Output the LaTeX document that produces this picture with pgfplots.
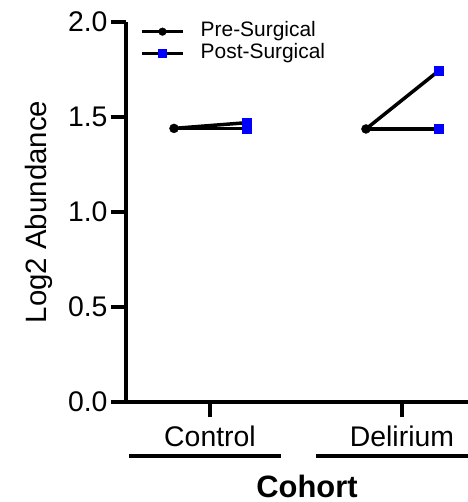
\documentclass[border=0pt]{standalone}
\usepackage{fontspec}
\setmainfont{Liberation Sans}
\usepackage{pgfplots}
\pgfplotsset{compat=1.18}
\begin{document}
\begin{tikzpicture}
\begin{axis}[
  at={(126bp,100bp)}, anchor=south west,
  scale only axis, width=342bp, height=380bp,
  xmin=0.5625, xmax=2.344, ymin=0, ymax=2,
  axis x line*=bottom, axis y line*=left,
  axis line style={line width=3.5bp, black},
  tick style={line width=3.5bp, black},
  major tick length=15bp, tick align=outside,
  xtick={1,2}, xticklabels={Control,Delirium},
  ytick={0,0.5,1,1.5,2},
  y tick label style={/pgf/number format/.cd, fixed, fixed zerofill, precision=1, /tikz/.cd},
  x tick label style={yshift=-5bp},
  /pgf/number format/assume math mode=true,
  tick label style={font=\fontsize{28.5}{33}\selectfont},
  ylabel={Log2 Abundance},
  ylabel style={font=\fontsize{29.5}{34}\selectfont, at={(axis description cs:-0.254,0.5)}, anchor=center},
  clip=false,
  legend image code/.code={\draw[mark repeat=2,mark phase=2,#1,line width=3.5bp] plot coordinates {(0bp,0bp) (20.5bp,0bp) (41bp,0bp)};},
  legend style={draw=none, fill=none, inner sep=0pt, at={(axis description cs:0.041,1.004)}, anchor=north west,
    font=\fontsize{21}{23}\selectfont, nodes={inner sep=1bp, text height=15bp, text depth=5bp}},
  legend cell align=left,
]
\addlegendimage{black, mark=*, mark options={black, line width=0.5bp, mark size=3.8bp}}
\addlegendentry{\hspace*{15bp}Pre-Surgical}
\addlegendimage{black, mark=square*, mark options={blue, draw=blue, line width=0.5bp, mark size=4bp}}
\addlegendentry{\hspace*{15bp}Post-Surgical}
\addplot[black, line width=3.5bp, forget plot] coordinates {(0.8125,1.44) (1.19,1.44)};
\addplot[black, line width=3.5bp, forget plot] coordinates {(0.8125,1.44) (1.19,1.47)};
\addplot[black, line width=3.5bp, forget plot] coordinates {(1.8125,1.437) (2.19,1.742)};
\addplot[black, line width=3.5bp, forget plot] coordinates {(1.8125,1.437) (2.19,1.437)};
\addplot[only marks, mark=*, mark size=4.5bp, black, forget plot] coordinates {(0.8125,1.44) (1.8125,1.437)};
\addplot[only marks, mark=square*, mark size=4.5bp, blue, draw=blue, forget plot] coordinates {(1.19,1.44) (1.19,1.47) (2.19,1.742) (2.19,1.437)};
\end{axis}
\draw[line width=3.5bp] (129bp,46bp) -- (281bp,46bp);
\draw[line width=3.5bp] (316bp,46bp) -- (468bp,46bp);
\node[font=\bfseries\fontsize{31}{36}\selectfont] at (307bp,16bp) {Cohort};
\pgfresetboundingbox
\path[use as bounding box] (0bp,0bp) rectangle (468bp,502bp);
\end{tikzpicture}
\end{document}
